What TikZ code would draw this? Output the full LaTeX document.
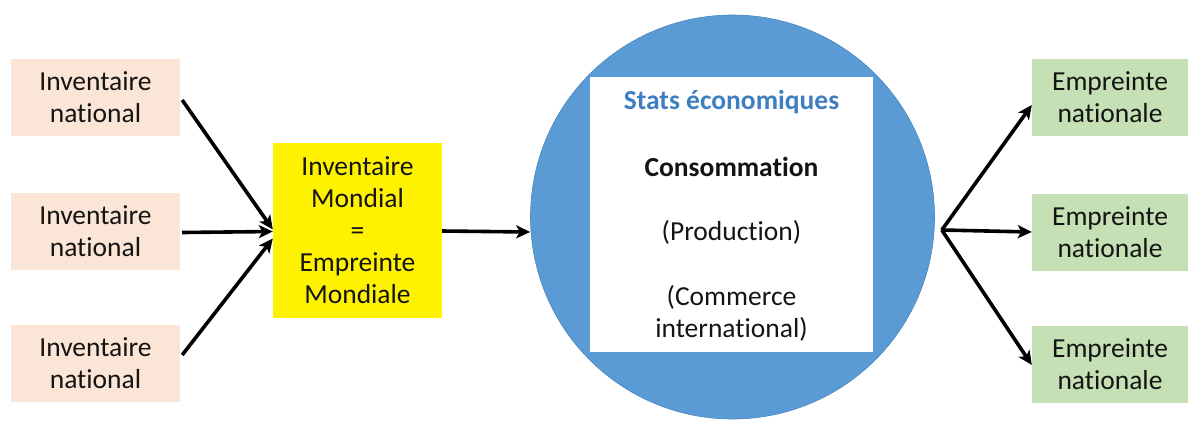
\documentclass[tikz,border=0pt]{standalone}
\usepackage{fontspec}
\setmainfont{Carlito}[Ligatures=NoCommon]
\usetikzlibrary{arrows.meta,calc}
\definecolor{peach}{HTML}{FBE5D6}
\definecolor{lgreen}{HTML}{C5E0B4}
\definecolor{cblue}{HTML}{5B9BD5}
\definecolor{cedge}{HTML}{4A86BF}
\definecolor{tblue}{HTML}{3F7FC1}
\definecolor{txt}{HTML}{141414}
\tikzset{
  lbl/.style={font=\fontsize{27.5}{32}\selectfont, text=txt, align=center, inner sep=0pt},
  inbox/.style={lbl, fill=peach, minimum width=169pt, minimum height=77pt},
  outbox/.style={lbl, fill=lgreen, minimum width=156pt, minimum height=77pt},
  ybox/.style={lbl, fill=yellow, minimum width=169pt, minimum height=175pt},
  arr/.style={line width=3.6pt, -{Stealth[length=14pt,width=13pt,inset=3.5pt]}},
}
\begin{document}
\begin{tikzpicture}[x=1pt,y=-1pt]
\useasboundingbox (0,0) rectangle (1193,421);
% left boxes
\node[inbox] (L1) at (95.5,97) {Inventaire\\national};
\node[inbox] (L2) at (95.5,231.5) {Inventaire\\national};
\node[inbox] (L3) at (95.5,363.5) {Inventaire\\national};
% yellow box
\node[ybox] (Y) at (357.5,230.5) {Inventaire\\Mondial\\=\\Empreinte\\Mondiale};
% circle
\node[circle, fill=cblue, draw=cedge, line width=0.6pt, minimum size=404pt, inner sep=0pt] (C) at (732.5,217) {};
\node[fill=white, minimum width=283pt, minimum height=275pt, inner sep=0pt] (W) at (731.5,214.5) {};
\node[lbl, text=tblue, font=\fontsize{27.5}{32}\selectfont\bfseries] (t1) at (731.5,102) {Stats économiques};
\node[lbl, font=\fontsize{27.5}{32}\selectfont\bfseries] (t2) at (731.5,167) {Consommation};
\node[lbl] (t3) at (731.5,232) {(Production)};
\node[lbl] (t4) at (731.5,313) {(Commerce\\international)};
% right boxes
\node[outbox] (R1) at (1110,97.5) {Empreinte\\nationale};
\node[outbox] (R2) at (1110,232) {Empreinte\\nationale};
\node[outbox] (R3) at (1110,364) {Empreinte\\nationale};
% connectors
\coordinate (fan) at ([xshift=7pt,yshift=-13pt]C.east);
\draw[arr] ([xshift=2pt,yshift=-3pt]L1.east) -- ([yshift=1pt]Y.west);
\draw[arr] ([xshift=2pt,yshift=-1pt]L2.east) -- ([yshift=-1pt]Y.west);
\draw[arr] ([xshift=2pt,yshift=8.5pt]L3.east) -- ([yshift=-8pt]Y.west);
\draw[arr] ([yshift=-0.5pt]Y.east) -- ([yshift=-15pt]C.west);
\draw[arr] (fan) -- ([yshift=-7.5pt]R1.west);
\draw[arr] (fan) -- ([yshift=0pt]R2.west);
\draw[arr] (fan) -- ([yshift=-1pt]R3.west);
\end{tikzpicture}
\end{document}
